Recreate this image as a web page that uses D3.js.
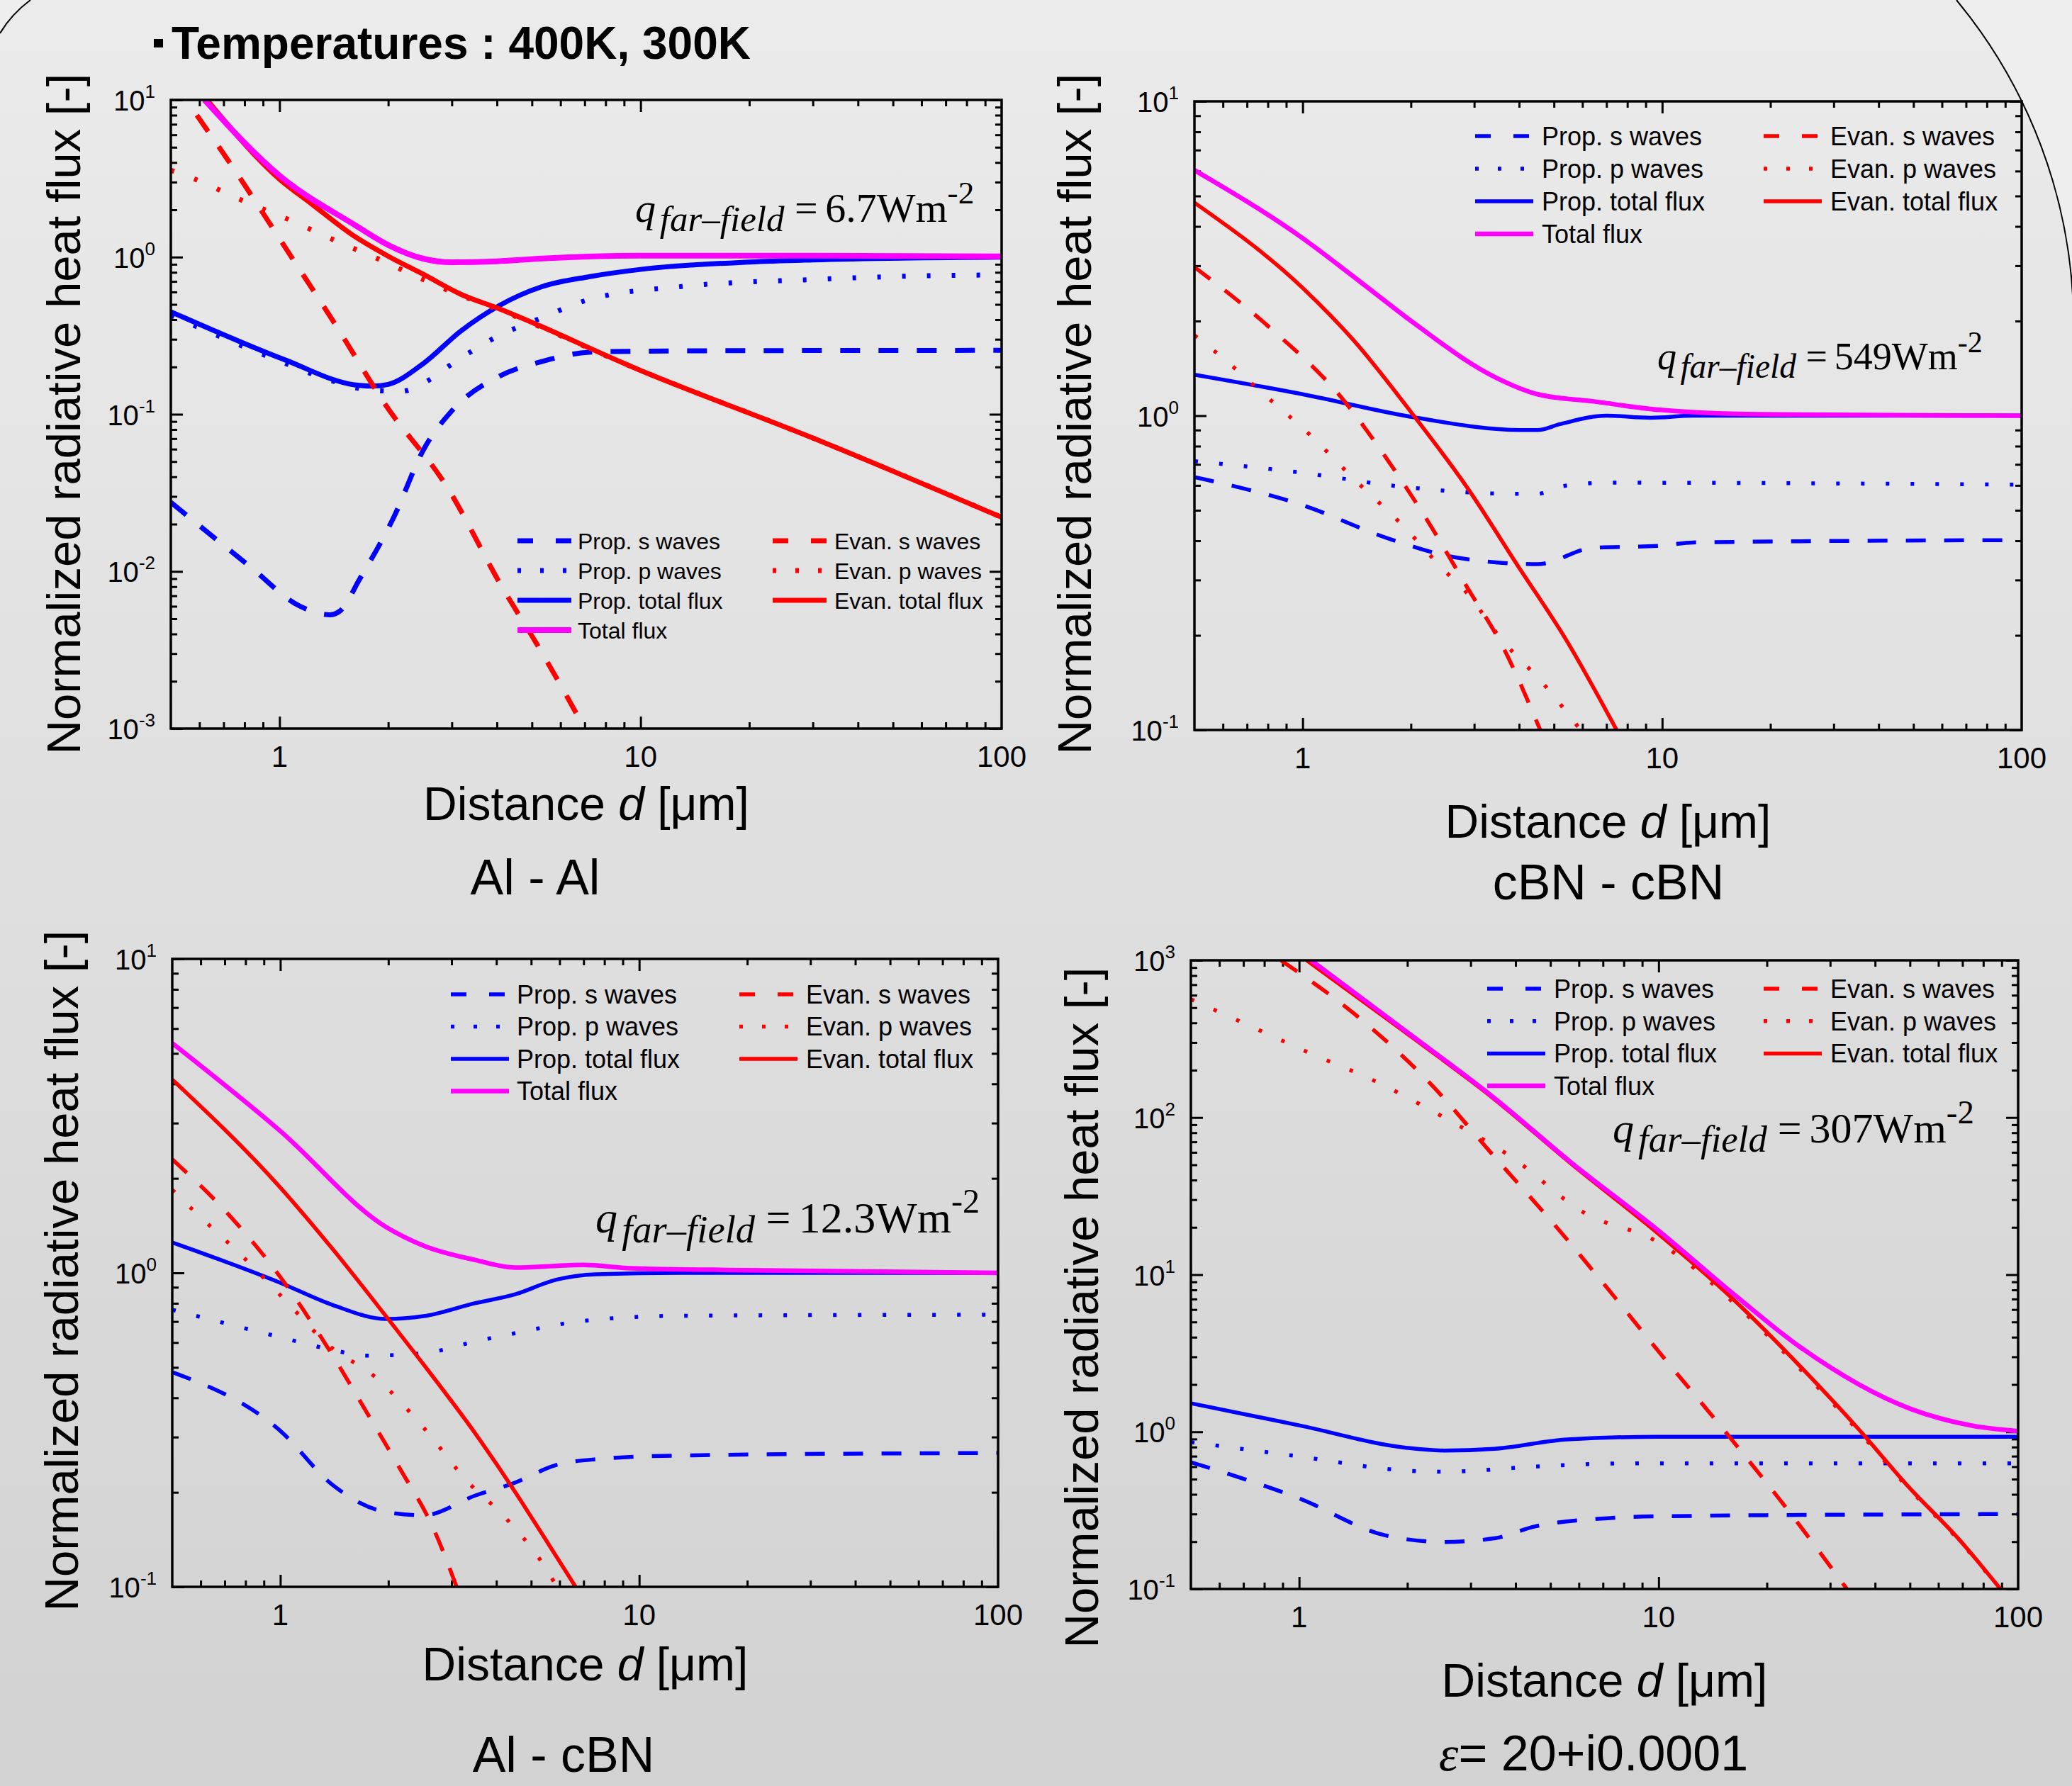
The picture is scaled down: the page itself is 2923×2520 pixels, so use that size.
<!DOCTYPE html>
<html>
<head>
<meta charset="utf-8">
<script src="https://cdn.jsdelivr.net/npm/d3@7"></script>
<style>
  body { margin: 0; background: #fff; }
  svg { display: block; }
</style>
</head>
<body>
<div id="chart"></div>
<script>
// ---------------- data ----------------
// every series is a list of [distance d (um), normalized flux]
var xDomain = [0.5, 100];
var xTickLabels = ["1", "10", "100"];

// Al - Al
var alAl_propS   = [[0.5,0.0275],[0.83,0.0107],[1.14,0.006],[1.38,0.0053],[1.47,0.0056],[1.67,0.009],[2.07,0.022],[2.51,0.06],[3.0,0.105],[4.05,0.174],[5.35,0.217],[7.2,0.248],[10,0.252],[20,0.254],[100,0.255]];
var alAl_propP   = [[0.5,0.425],[1.0,0.218],[1.4,0.163],[1.8,0.142],[2.18,0.14],[2.51,0.158],[2.92,0.2],[3.93,0.305],[5.35,0.413],[7.2,0.537],[13,0.65],[30,0.72],[60,0.76],[100,0.77]];
var alAl_propTot = [[0.5,0.449],[1.04,0.221],[1.61,0.154],[1.81,0.151],[2.0,0.155],[2.5,0.21],[3.18,0.339],[4.05,0.49],[5.35,0.65],[7.2,0.75],[10,0.835],[20,0.93],[30,0.96],[100,1.0]];
var alAl_evanS   = [[0.59,8.0],[0.75,3.6],[1.04,1.14],[1.43,0.37],[1.96,0.116],[2.92,0.034],[4.14,0.0079],[5.14,0.0035],[6.65,0.00124],[7.0,0.001]];
var alAl_evanP   = [[0.5,3.57],[0.583,3.13],[0.783,2.31],[1.05,1.75],[1.41,1.29],[1.87,0.977],[2.51,0.716],[3.0,0.6],[4.05,0.462],[10,0.19],[30,0.0706],[100,0.0221]];
var alAl_evanTot = [[0.63,10],[1.0,3.13],[1.23,2.17],[1.61,1.36],[2.02,1.0],[2.5,0.778],[3.18,0.58],[4.05,0.47],[10,0.19],[30,0.0706],[100,0.0221]];
var alAl_total   = [[0.62,10],[1.0,3.3],[1.61,1.61],[2.02,1.18],[2.5,0.977],[3.0,0.927],[4.0,0.94],[5.35,0.98],[10,1.02],[30,1.02],[100,1.01]];

// cBN - cBN
var cbn_propS   = [[0.5,0.638],[1.0,0.519],[1.76,0.404],[2.63,0.355],[4.5,0.337],[6.45,0.38],[9.7,0.385],[12.2,0.395],[100,0.402]];
var cbn_propP   = [[0.5,0.716],[1.0,0.658],[1.87,0.595],[3.94,0.564],[4.5,0.564],[5.2,0.595],[7.0,0.612],[100,0.603]];
var cbn_propTot = [[0.5,1.35],[1.0,1.17],[2.04,0.988],[4.03,0.9],[4.5,0.9],[5.2,0.94],[7.0,1.0],[9.3,0.985],[12.2,1.0],[100,1.0]];
var cbn_evanS   = [[0.5,2.97],[0.8,1.93],[1.3,1.12],[1.69,0.746],[2.22,0.465],[2.87,0.284],[3.63,0.181],[4.58,0.1]];
var cbn_evanP   = [[0.5,1.8],[0.59,1.55],[0.78,1.17],[1.05,0.867],[1.39,0.628],[1.87,0.455],[2.47,0.323],[2.87,0.272],[3.55,0.196],[4.68,0.14],[5.93,0.1]];
var cbn_evanTot = [[0.5,4.76],[1.0,2.55],[1.39,1.73],[2.04,0.998],[2.87,0.59],[3.94,0.337],[5.43,0.192],[7.47,0.1]];
var cbn_total   = [[0.5,6.04],[1.0,3.67],[1.45,2.66],[2.04,1.97],[3.41,1.33],[4.5,1.17],[6.45,1.11],[9.7,1.045],[18.7,1.01],[100,1.0]];

// Al - cBN
var alCbn_propS   = [[0.5,0.483],[1.0,0.314],[1.4,0.211],[1.97,0.173],[2.51,0.169],[3.48,0.195],[4.52,0.215],[5.85,0.244],[7.6,0.255],[13,0.262],[100,0.267]];
var alCbn_propP   = [[0.5,0.763],[1.0,0.624],[1.4,0.568],[1.74,0.545],[2.51,0.555],[3.48,0.604],[4.52,0.643],[6.98,0.703],[12.8,0.73],[100,0.736]];
var alCbn_propTot = [[0.5,1.25],[1.0,0.93],[1.4,0.79],[1.97,0.713],[2.51,0.728],[3.48,0.8],[4.52,0.855],[5.85,0.95],[7.6,0.99],[13,1.0],[100,1.0]];
var alCbn_evanS   = [[0.5,2.3],[0.697,1.59],[1.0,0.97],[1.4,0.545],[1.74,0.36],[2.15,0.239],[2.68,0.152],[3.1,0.1]];
var alCbn_evanP   = [[0.5,1.84],[0.58,1.56],[0.79,1.12],[1.03,0.82],[1.36,0.59],[1.85,0.463],[2.51,0.321],[3.33,0.216],[4.24,0.166],[5.48,0.115],[5.9,0.1]];
var alCbn_evanTot = [[0.5,4.13],[1.0,1.87],[1.4,1.19],[1.97,0.728],[2.51,0.51],[3.48,0.31],[4.52,0.2],[5.35,0.148],[6.65,0.1]];
var alCbn_total   = [[0.5,5.39],[1.0,2.83],[1.97,1.40],[2.51,1.22],[3.48,1.1],[4.52,1.04],[6.98,1.06],[9.46,1.035],[20,1.02],[100,1.0]];

// eps = 20 + i0.0001
var eps_propS   = [[0.5,0.64],[1.0,0.377],[1.73,0.22],[2.53,0.199],[3.49,0.21],[4.5,0.249],[7.2,0.282],[9.93,0.29],[100,0.3]];
var eps_propP   = [[0.5,0.86],[1.0,0.697],[2.0,0.566],[2.53,0.557],[4.5,0.6],[8.2,0.63],[100,0.63]];
var eps_propTot = [[0.5,1.52],[1.0,1.1],[2.0,0.79],[2.53,0.76],[3.49,0.78],[5.57,0.894],[9.93,0.93],[100,0.93]];
var eps_evanS   = [[0.89,1000],[1.42,459],[2.28,171],[3.49,56.4],[5.36,18.5],[7.2,8.2],[9.93,3.31],[15.5,0.97],[23.8,0.283],[33.4,0.1]];
var eps_evanP   = [[0.5,565],[0.78,357],[1.03,267],[1.62,171],[2.53,100],[3.88,56.4],[6.2,24.8],[10,16],[16.2,6.6],[24.8,2.5],[36.4,0.98],[49,0.45],[69,0.2],[89,0.1]];
var eps_evanTot = [[1.05,1000],[1.92,365],[3.49,131],[5.7,51],[9.93,18.4],[16.2,6.9],[24.8,2.6],[36.4,1.01],[49,0.46],[69,0.203],[89.3,0.1]];
var eps_total   = [[1.08,1000],[1.92,373],[3.49,133],[5.7,51.9],[9.93,19.3],[16.2,7.5],[24.8,3.45],[50.2,1.4],[75.2,1.09],[100,1.01]];

var legendLeft  = ["Prop. s waves", "Prop. p waves", "Prop. total flux", "Total flux"];
var legendRight = ["Evan. s waves", "Evan. p waves", "Evan. total flux"];
var qFarField = ["6.7", "549", "12.3", "307"];
var pairNames = ["Al - Al", "cBN - cBN", "Al - cBN", "20+i0.0001"];

// ---------------- layout ----------------
var W = 2923, H = 2520;
var SANS = "'Liberation Sans', Arial, sans-serif";
var SERIF = "'Liberation Serif', 'Times New Roman', serif";

var style = {
  propS:   {color: "#0000ff", dash: "28,26"},
  propP:   {color: "#0000ff", dash: "5,30"},
  propTot: {color: "#0000ff", dash: null},
  evanS:   {color: "#ff0000", dash: "28,26"},
  evanP:   {color: "#ff0000", dash: "5,30"},
  evanTot: {color: "#ff0000", dash: null},
  total:   {color: "#ff00ff", dash: null}
};
var legendKeysL = ["propS", "propP", "propTot", "total"];
var legendKeysR = ["evanS", "evanP", "evanTot"];
var drawOrder = ["propS", "propP", "propTot", "evanS", "evanP", "evanTot", "total"];

var panels = [
  {left: 241, right: 1413, top: 141, bottom: 1028, yDomain: [1e-3, 10], lw: 7,
   series: {propS: alAl_propS, propP: alAl_propP, propTot: alAl_propTot, evanS: alAl_evanS, evanP: alAl_evanP, evanTot: alAl_evanTot, total: alAl_total},
   leg: {cy: 763, dy: 42, font: 32, lx: 730, ltx: 815, rx: 1090, rtx: 1177, len: 76},
   q: {x: 896, y: 313, size: 58}, ylab: {x: 113, y: 584}, xlabY: 1157, name: {x: 755, y: 1262}},
  {left: 1685, right: 2852, top: 143, bottom: 1030, yDomain: [0.1, 10], lw: 5.5,
   series: {propS: cbn_propS, propP: cbn_propP, propTot: cbn_propTot, evanS: cbn_evanS, evanP: cbn_evanP, evanTot: cbn_evanTot, total: cbn_total},
   leg: {cy: 192, dy: 46, font: 36, lx: 2081, ltx: 2175, rx: 2488, rtx: 2582, len: 82},
   q: {x: 2338, y: 521, size: 54}, ylab: {x: 1539, y: 584}, xlabY: 1182, name: {x: 2269, y: 1269}},
  {left: 243, right: 1408, top: 1353, bottom: 2239, yDomain: [0.1, 10], lw: 5.5,
   series: {propS: alCbn_propS, propP: alCbn_propP, propTot: alCbn_propTot, evanS: alCbn_evanS, evanP: alCbn_evanP, evanTot: alCbn_evanTot, total: alCbn_total},
   leg: {cy: 1403, dy: 45.5, font: 36, lx: 636, ltx: 729, rx: 1043, rtx: 1137, len: 82},
   q: {x: 840, y: 1739, size: 62}, ylab: {x: 110, y: 1793}, xlabY: 2371, name: {x: 795, y: 2500}},
  {left: 1680, right: 2847, top: 1355, bottom: 2242, yDomain: [0.1, 1000], lw: 5.5,
   series: {propS: eps_propS, propP: eps_propP, propTot: eps_propTot, evanS: eps_evanS, evanP: eps_evanP, evanTot: eps_evanTot, total: eps_total},
   leg: {cy: 1395, dy: 45.7, font: 36, lx: 2098, ltx: 2192, rx: 2488, rtx: 2582, len: 82},
   q: {x: 2275, y: 1612, size: 60}, ylab: {x: 1549, y: 1845}, xlabY: 2394, name: {x: 2248, y: 2498}}
];

var svg = d3.select("#chart").append("svg").attr("width", W).attr("height", H);
var defs = svg.append("defs");

// slide background
var grad = defs.append("linearGradient").attr("id", "bg")
  .attr("x1", 0).attr("y1", 0).attr("x2", 0).attr("y2", 1);
grad.append("stop").attr("offset", "0%").attr("stop-color", "#ebebeb");
grad.append("stop").attr("offset", "100%").attr("stop-color", "#d2d2d2");
svg.append("rect").attr("width", W).attr("height", H).attr("fill", "url(#bg)");

// rounded slide edges (top corners)
svg.append("path").attr("d", "M0,0 L43,0 Q16,20 0,47 Z").attr("fill", "#eeeeee");
svg.append("path").attr("d", "M0,47 Q16,20 43,0").attr("fill", "none").attr("stroke", "#000").attr("stroke-width", 2);
svg.append("path").attr("d", "M2760,0 A720,720 0 0 1 2925,440 L2925,0 Z").attr("fill", "#eeeeee");
svg.append("path").attr("d", "M2760,0 A720,720 0 0 1 2925,440").attr("fill", "none").attr("stroke", "#000").attr("stroke-width", 2);

// header
svg.append("rect").attr("x", 217).attr("y", 55).attr("width", 13).attr("height", 12).attr("fill", "#000");
svg.append("text").attr("x", 242).attr("y", 83)
  .attr("font-family", SANS).attr("font-weight", "bold").attr("font-size", 64)
  .text("Temperatures : 400K, 300K");

function isMajor(t) {
  var l = Math.log10(t);
  return Math.abs(l - Math.round(l)) < 1e-9;
}

panels.forEach(function(p, i) {
  var x = d3.scaleLog().domain(xDomain).range([p.left, p.right]);
  var y = d3.scaleLog().domain(p.yDomain).range([p.bottom, p.top]);
  var g = svg.append("g");

  var xt = x.ticks(), yt = y.ticks();
  var xMaj = xt.filter(isMajor), xMin = xt.filter(function(t) { return !isMajor(t); });
  var yMaj = yt.filter(isMajor), yMin = yt.filter(function(t) { return !isMajor(t); });

  function ticks(axis, vals, size, tr) {
    g.append("g").attr("transform", tr)
      .call(axis.tickValues(vals).tickSize(size).tickSizeOuter(0).tickFormat(""))
      .call(function(a) { a.select(".domain").remove(); })
      .selectAll("line").attr("stroke", "#000").attr("stroke-width", 3);
  }
  ticks(d3.axisBottom(x), xMaj.filter(function(t) { return t > xDomain[0] && t < xDomain[1]; }), -17, "translate(0," + p.bottom + ")");
  ticks(d3.axisBottom(x), xMin.filter(function(t) { return t > xDomain[0]; }), -9, "translate(0," + p.bottom + ")");
  ticks(d3.axisTop(x), xMaj.filter(function(t) { return t < xDomain[1]; }), -17, "translate(0," + p.top + ")");
  ticks(d3.axisTop(x), xMin.filter(function(t) { return t > xDomain[0]; }), -9, "translate(0," + p.top + ")");
  ticks(d3.axisLeft(y), yMaj, -17, "translate(" + p.left + ",0)");
  ticks(d3.axisLeft(y), yMin, -9, "translate(" + p.left + ",0)");
  ticks(d3.axisRight(y), yMaj, -17, "translate(" + p.right + ",0)");
  ticks(d3.axisRight(y), yMin, -9, "translate(" + p.right + ",0)");

  // curves
  var cid = "clip" + i;
  defs.append("clipPath").attr("id", cid).append("rect")
    .attr("x", p.left).attr("y", p.top).attr("width", p.right - p.left).attr("height", p.bottom - p.top);
  var line = d3.line().x(function(d) { return x(d[0]); }).y(function(d) { return y(d[1]); })
    .curve(d3.curveMonotoneX);
  var cg = g.append("g").attr("clip-path", "url(#" + cid + ")");
  drawOrder.forEach(function(k) {
    var s = style[k];
    cg.append("path").datum(p.series[k]).attr("d", line)
      .attr("fill", "none").attr("stroke", s.color)
      .attr("stroke-width", k === "total" ? p.lw + 1 : p.lw)
      .attr("stroke-dasharray", s.dash)
      .attr("stroke-linejoin", "round");
  });

  // frame
  g.append("rect").attr("x", p.left).attr("y", p.top)
    .attr("width", p.right - p.left).attr("height", p.bottom - p.top)
    .attr("fill", "none").attr("stroke", "#000").attr("stroke-width", 3.5);

  // tick labels
  g.selectAll(".xl").data(xMaj.filter(function(t) { return t >= 1; })).enter().append("text")
    .attr("x", function(d) { return x(d); }).attr("y", p.bottom + 54)
    .attr("text-anchor", "middle").attr("font-family", SANS).attr("font-size", 42)
    .text(function(d, j) { return xTickLabels[j]; });
  var yl = g.selectAll(".yl").data(yMaj).enter().append("text")
    .attr("x", p.left - 22).attr("y", function(d) { return y(d) + 15; })
    .attr("text-anchor", "end").attr("font-family", SANS).attr("font-size", 40);
  yl.append("tspan").text("10");
  yl.append("tspan").attr("font-size", 26).attr("dy", -18)
    .text(function(d) { return String(Math.round(Math.log10(d))); });

  // axis titles
  g.append("text").attr("transform", "translate(" + p.ylab.x + "," + p.ylab.y + ") rotate(-90)")
    .attr("text-anchor", "middle").attr("font-family", SANS).attr("font-size", 67)
    .text("Normalized radiative heat flux [-]");
  var xl = g.append("text").attr("x", (p.left + p.right) / 2).attr("y", p.xlabY)
    .attr("text-anchor", "middle").attr("font-family", SANS).attr("font-size", 66);
  xl.append("tspan").text("Distance ");
  xl.append("tspan").attr("font-style", "italic").text("d");
  xl.append("tspan").text(" [\u03bcm]");

  // material pair
  var nm = g.append("text").attr("x", p.name.x).attr("y", p.name.y)
    .attr("text-anchor", "middle").attr("font-family", SANS).attr("font-size", 70);
  if (i === 3) {
    nm.append("tspan").attr("font-family", SERIF).attr("font-style", "italic").text("\u03b5");
    nm.append("tspan").text("= " + pairNames[i]);
  } else {
    nm.text(pairNames[i]);
  }

  // far-field annotation
  var fs = p.q.size;
  var q = g.append("text").attr("x", p.q.x).attr("y", p.q.y)
    .attr("font-family", SERIF).attr("font-size", fs);
  q.append("tspan").attr("font-style", "italic").text("q");
  q.append("tspan").attr("font-style", "italic").attr("font-size", fs * 0.88)
    .attr("dx", fs * 0.1).attr("dy", fs * 0.22).text("far\u2013field");
  q.append("tspan").attr("dx", fs * 0.25).attr("dy", -fs * 0.22).text("=");
  q.append("tspan").attr("dx", fs * 0.18).text(qFarField[i] + "Wm");
  q.append("tspan").attr("font-size", fs * 0.78).attr("dy", -fs * 0.45).text("-2");

  // legend
  var L = p.leg;
  function legRow(key, label, r, lx, tx) {
    var cy = L.cy + r * L.dy;
    var s = style[key];
    g.append("line").attr("x1", lx).attr("x2", lx + L.len).attr("y1", cy).attr("y2", cy)
      .attr("stroke", s.color).attr("stroke-width", key === "total" ? p.lw + 1 : p.lw)
      .attr("stroke-dasharray", s.dash ? (s.dash === "5,30" ? "5,27" : "22,32") : null);
    g.append("text").attr("x", tx).attr("y", cy + L.font * 0.36)
      .attr("font-family", SANS).attr("font-size", L.font).text(label);
  }
  legendKeysL.forEach(function(k, r) { legRow(k, legendLeft[r], r, L.lx, L.ltx); });
  legendKeysR.forEach(function(k, r) { legRow(k, legendRight[r], r, L.rx, L.rtx); });
});
</script>
</body>
</html>
